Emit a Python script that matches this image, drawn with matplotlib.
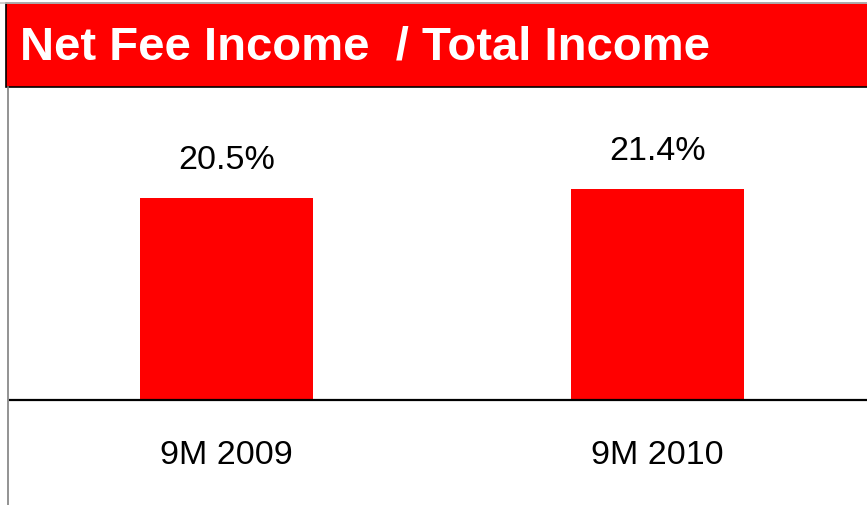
import matplotlib.pyplot as plt
from matplotlib.patches import Rectangle
from matplotlib.lines import Line2D

# data
categories = ['9M 2009', '9M 2010']
values = [20.5, 21.4]
labels = ['20.5%', '21.4%']

plt.rcParams['font.family'] = ['Liberation Sans', 'DejaVu Sans']

W, H = 867, 506
fig = plt.figure(figsize=(W / 100, H / 100), dpi=100)

# header band
fig.add_artist(Line2D([0, 1], [1 - 3.5 / H, 1 - 3.5 / H], color='#c8c8c8', lw=1.2))
fig.add_artist(Rectangle((6 / W, 1 - 88 / H), 1, 84 / H, facecolor='#ff0000',
                         edgecolor='black', lw=1.2))
fig.text(20 / W, 1 - 47 / H, 'Net Fee Income  / Total Income', color='white',
         fontsize=34, fontweight='bold', va='center', ha='left')

# left border line
fig.add_artist(Line2D([7.5 / W, 7.5 / W], [0, 1 - 88 / H], color='#808080', lw=1.2))

# chart axes
ax = fig.add_axes([8 / W, 105 / H, 859 / W, 294 / H])
scale = 9.855  # px per percentage point
ax.set_ylim(0, 294 / scale)
unit = 431.0
ax.set_xlim((8 - 226.5) / unit, (867 - 226.5) / unit)

x = list(range(len(categories)))
ax.bar(x, values, width=173 / unit, color='#ff0000')
for i, v in enumerate(values):
    ax.text(i, v + 3.9, labels[i], ha='center', va='center', fontsize=24.5)
    ax.text(i, -55 / scale, categories[i], ha='center', va='center',
            fontsize=24.5, clip_on=False)

ax.plot([(10 - 226.5) / unit, (867 - 226.5) / unit], [0, 0], color='black', lw=1.6,
        clip_on=False)
ax.axis('off')

fig.savefig('out.png', dpi=100)
